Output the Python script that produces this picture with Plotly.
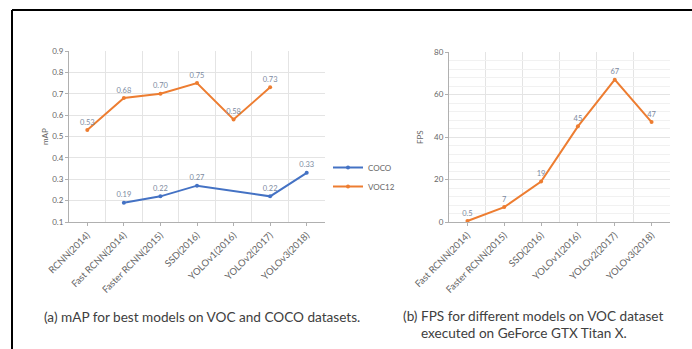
import plotly.graph_objects as go

W, H = 692, 349

# ---- data ----
map_categories = ["RCNN(2014)", "Fast RCNN(2014)", "Faster RCNN(2015)", "SSD(2016)",
                  "YOLOv1(2016)", "YOLOv2(2017)", "YOLOv3(2018)"]
coco_map = [None, 0.19, 0.22, 0.27, None, 0.22, 0.33]
voc12_map = [0.53, 0.68, 0.70, 0.75, 0.58, 0.73, None]

fps_categories = ["Fast RCNN(2014)", "Faster RCNN(2015)", "SSD(2016)",
                  "YOLOv1(2016)", "YOLOv2(2017)", "YOLOv3(2018)"]
fps_values = [0.5, 7, 19, 45, 67, 47]

map_ticks = [0.1, 0.2, 0.3, 0.4, 0.5, 0.6, 0.7, 0.8, 0.9]
fps_ticks = [0, 20, 40, 60, 80]

BLUE = "#4472C4"
ORANGE = "#ED7D31"
LABEL = "#7d8aa0"
TICK = "#666666"
AXIS = "#b0b0b0"
GRID = "#e4e4e4"
FONT = "Lato"

def px_x(p):
    return p / W

def px_y(p):
    return 1 - p / H

def fmt(v):
    if v is None:
        return ""
    return f"{v:.2f}"

fig = go.Figure()

map_x = list(range(len(map_categories)))
fps_x = list(range(len(fps_categories)))

fig.add_trace(go.Scatter(
    x=map_x, y=coco_map, name="COCO", mode="lines+markers+text",
    text=[fmt(v) for v in coco_map], textposition="top center",
    textfont=dict(size=7.5, color=LABEL, family=FONT),
    line=dict(color=BLUE, width=2), marker=dict(size=4, color=BLUE),
    connectgaps=True, xaxis="x", yaxis="y", cliponaxis=False))
fig.add_trace(go.Scatter(
    x=map_x, y=voc12_map, name="VOC12", mode="lines+markers+text",
    text=[fmt(v) for v in voc12_map], textposition="top center",
    textfont=dict(size=7.5, color=LABEL, family=FONT),
    line=dict(color=ORANGE, width=2), marker=dict(size=4, color=ORANGE),
    connectgaps=False, xaxis="x", yaxis="y", cliponaxis=False))
fig.add_trace(go.Scatter(
    x=fps_x, y=fps_values, name="FPS", mode="lines+markers+text",
    text=[f"{v:g}" for v in fps_values], textposition="top center",
    textfont=dict(size=7.5, color=LABEL, family=FONT),
    line=dict(color=ORANGE, width=2), marker=dict(size=4, color=ORANGE),
    xaxis="x2", yaxis="y2", showlegend=False, cliponaxis=False))

common_x = dict(
    showgrid=False, zeroline=False, showline=True, linecolor=AXIS, linewidth=1,
    ticks="outside", ticklen=3, tickcolor=AXIS, tickangle=-45, automargin=False,
    tickfont=dict(size=9.5, color=TICK, family=FONT),
    minor=dict(tick0=0.5, dtick=1, showgrid=True, gridcolor=GRID, gridwidth=1, ticks=""),
)
common_y = dict(
    zeroline=False, showline=True, linecolor=AXIS, linewidth=1, automargin=False,
    ticks="outside", ticklen=3, tickcolor=AXIS, showgrid=True, gridcolor=GRID,
    tickfont=dict(size=8, color=TICK, family=FONT),
)

fig.update_layout(
    width=W, height=H, margin=dict(l=0, r=0, t=0, b=0, pad=0, autoexpand=False),
    paper_bgcolor="white", plot_bgcolor="white",
    font=dict(family=FONT, color="#404040"),
    xaxis=dict(domain=[px_x(69), px_x(325)], range=[-0.5, 6.5],
               tickmode="array", tickvals=map_x, ticktext=map_categories,
               anchor="y", **common_x),
    yaxis=dict(domain=[px_y(222), px_y(51)], range=[0.1, 0.9],
               tickmode="array", tickvals=map_ticks,
               ticktext=[f"{t:.1f}" for t in map_ticks], anchor="x", **common_y),
    xaxis2=dict(domain=[px_x(449), px_x(670)], range=[-0.5, 5.5],
                tickmode="array", tickvals=fps_x, ticktext=fps_categories,
                anchor="y2", **common_x),
    yaxis2=dict(domain=[px_y(222), px_y(52)], range=[0, 80],
                tickmode="array", tickvals=fps_ticks,
                ticktext=[str(t) for t in fps_ticks], anchor="x2",
                minor=dict(dtick=4, showgrid=True, gridcolor="#f1f1f1", ticks=""),
                **common_y),
    legend=dict(x=px_x(328), y=px_y(153), xanchor="left", yanchor="top",
                font=dict(size=8, color=TICK, family=FONT),
                bgcolor="rgba(0,0,0,0)", tracegroupgap=2, itemwidth=30),
    showlegend=True,
)

# axis titles
fig.add_annotation(text="mAP", x=px_x(38), y=px_y(137), xref="paper", yref="paper",
                   textangle=-90, showarrow=False, font=dict(size=8, color=TICK, family=FONT))
fig.add_annotation(text="FPS", x=px_x(420), y=px_y(137), xref="paper", yref="paper",
                   textangle=-90, showarrow=False, font=dict(size=8, color=TICK, family=FONT))

# captions
fig.add_annotation(text="(a) mAP for best models on VOC and COCO datasets.",
                   x=px_x(42), y=px_y(317), xref="paper", yref="paper",
                   xanchor="left", yanchor="middle", showarrow=False,
                   font=dict(size=13.6, color="#404040", family=FONT))
fig.add_annotation(text="(b) FPS for different models on VOC dataset",
                   x=px_x(401), y=px_y(316), xref="paper", yref="paper",
                   xanchor="left", yanchor="middle", showarrow=False,
                   font=dict(size=13.6, color="#404040", family=FONT))
fig.add_annotation(text="executed on GeForce GTX Titan X.",
                   x=px_x(419), y=px_y(333), xref="paper", yref="paper",
                   xanchor="left", yanchor="middle", showarrow=False,
                   font=dict(size=13.6, color="#404040", family=FONT))

# black frame lines (top and left)
fig.add_shape(type="line", xref="paper", yref="paper",
              x0=px_x(12), x1=1, y0=px_y(10), y1=px_y(10),
              line=dict(color="black", width=2))
fig.add_shape(type="line", xref="paper", yref="paper",
              x0=px_x(12), x1=px_x(12), y0=px_y(10), y1=0,
              line=dict(color="black", width=2))

fig.write_html("out.html", config={"displayModeBar": False},
               post_script="document.body.style.margin='0px';document.body.style.overflow='hidden';")
